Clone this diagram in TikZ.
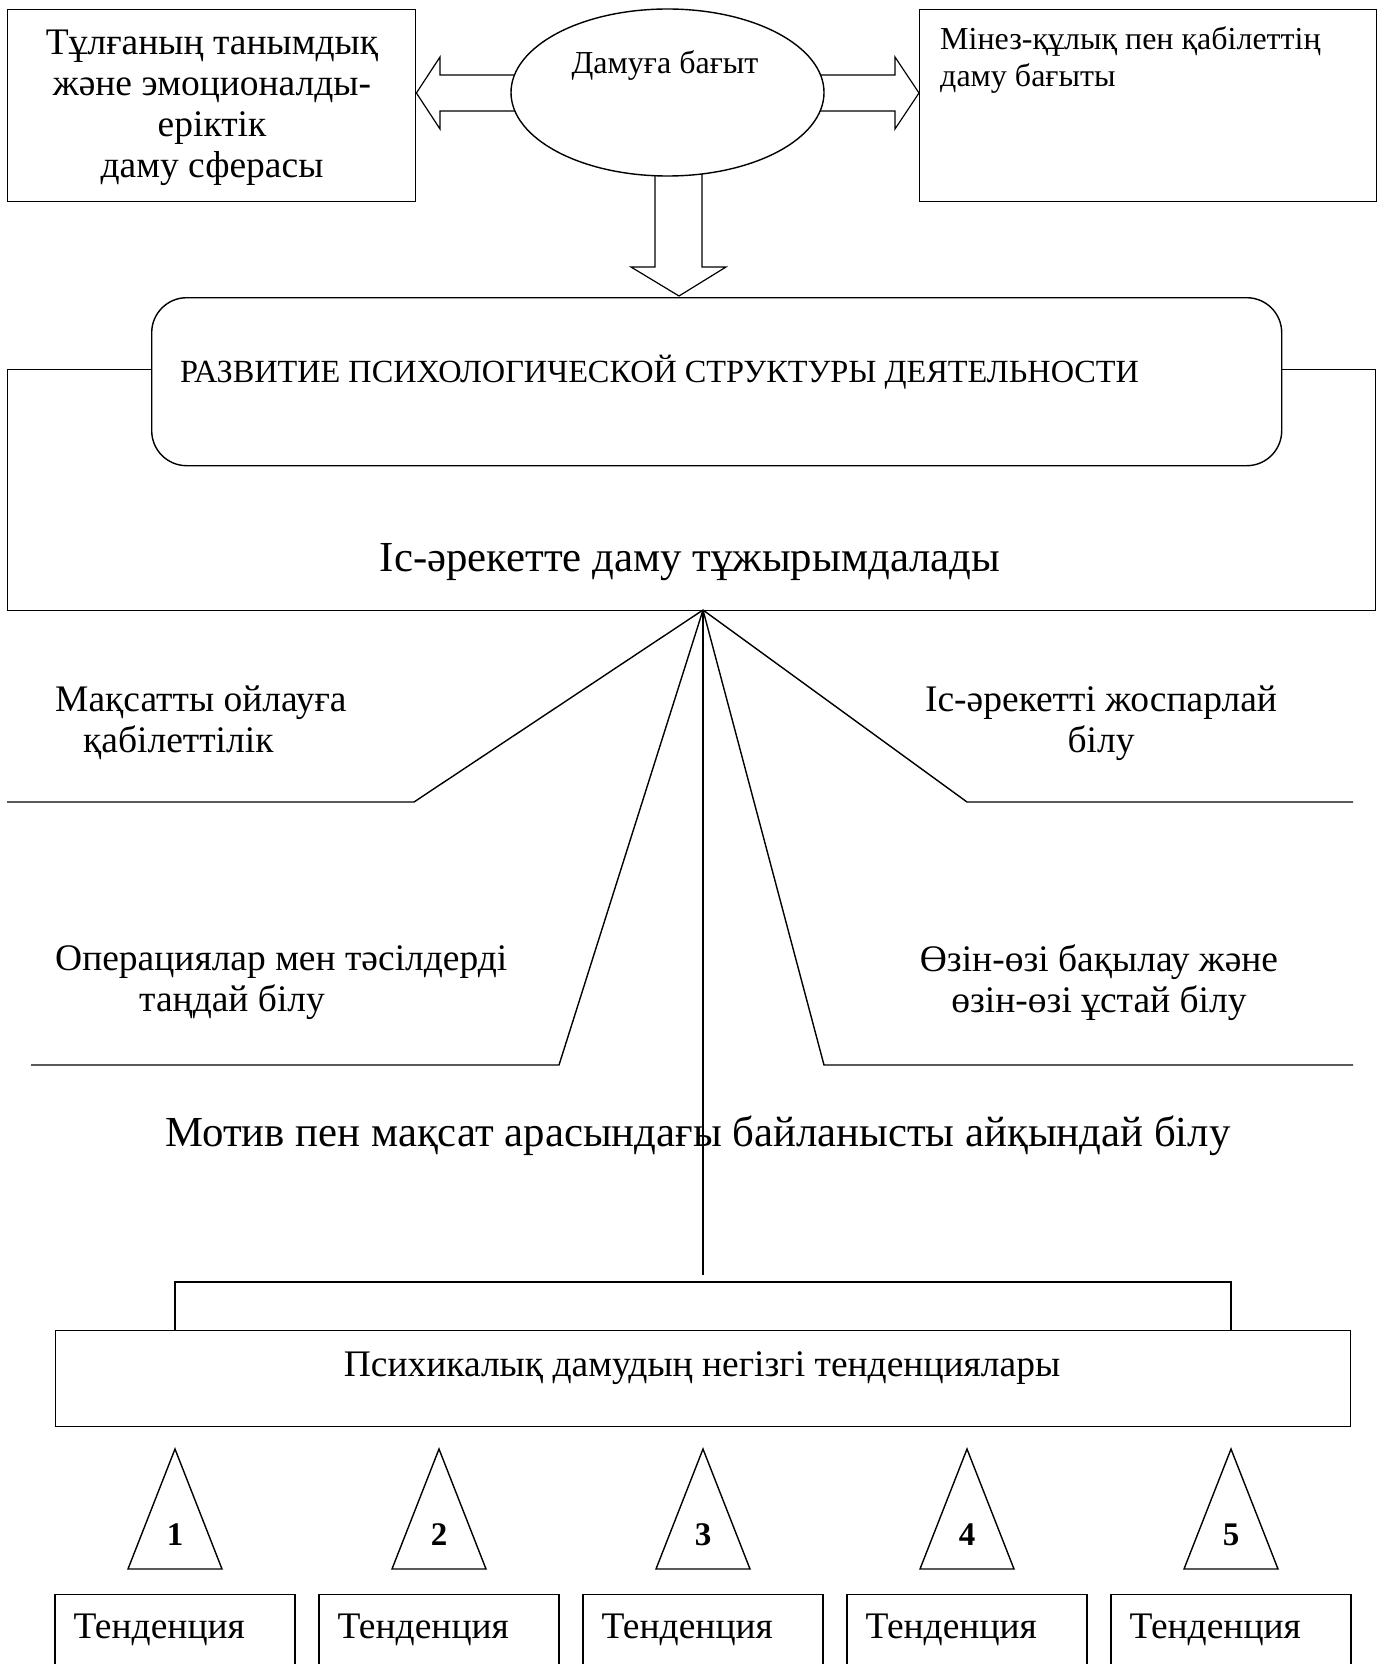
\documentclass[tikz,border=0pt]{standalone}
\usepackage{fontspec}
\setmainfont{Liberation Serif}
\usetikzlibrary{shapes.geometric}
\tikzset{
  ln/.style={line width=1.4pt},
  box/.style={draw, line width=1.4pt, inner sep=0pt},
  blockarrow/.style={draw, line width=1.2pt, fill=white, line join=miter},
  txt/.style={inner sep=0pt, font=\fontsize{37.5}{41}\selectfont},
  small/.style={inner sep=0pt, font=\fontsize{32}{37}\selectfont},
  big/.style={inner sep=0pt, font=\fontsize{42.8}{48}\selectfont},
  num/.style={inner sep=0pt, font=\fontsize{33}{36}\selectfont\bfseries},
}
\begin{document}
\begin{tikzpicture}[x=1pt,y=-1pt]
\useasboundingbox (0,0) rectangle (1384,1664);
\fill[white] (0,0) rectangle (1384,1664);

% top boxes
\node[box, minimum width=408, minimum height=192, anchor=north west] (lbox) at (7,9) {};
\node[txt, align=center] (ltext) at (212,108) {Тұлғаның танымдық\\және эмоционалды-\\еріктік\\даму сферасы};
\node[box, minimum width=457, minimum height=192, anchor=north west] (rbox) at (919,9) {};
\node[small, align=left, anchor=west] (rtext) at (940,60) {Мінез-құлық пен қабілеттің\\даму бағыты};

% block arrows
\draw[blockarrow] (535,75) -- (440,75) -- (440,57) -- (lbox.east |- 0,93) -- (440,129) -- (440,111) -- (535,111);
\draw[blockarrow] (800,75) -- (895,75) -- (895,57) -- (rbox.west |- 0,93) -- (895,129) -- (895,111) -- (800,111);
\coordinate (dtip) at (679,296);
\draw[blockarrow] (655,150) -- (655,267) -- (631,267) -- (dtip) -- (726,267) -- (702,267) -- (702,150);

% ellipse
\node[ellipse, draw, line width=1.4pt, fill=white, inner sep=0pt, minimum width=313, minimum height=167] (ell) at (667.5,92.5) {};
\node[small] (elltext) at (665,66) {Дамуға бағыт};

% big frame and rounded box
\node[box, minimum width=1368, minimum height=241, anchor=north west] (frame) at (7,369) {};
\node[box, fill=white, rounded corners=35, minimum width=1130, minimum height=168, anchor=north west] (dev) at (151,297) {};
\node[inner sep=0pt, font=\fontsize{32.3}{37}\selectfont, anchor=west] (devtext) at (180,372) {РАЗВИТИЕ ПСИХОЛОГИЧЕСКОЙ СТРУКТУРЫ ДЕЯТЕЛЬНОСТИ};
\node[big] (frametext) at (690,562) {Іс-әрекетте даму тұжырымдалады};

% fan
\coordinate (apex) at (703,610);
\coordinate (a1) at (414,802); \coordinate (a1e) at (7,802);
\coordinate (a2) at (967,802); \coordinate (a2e) at (1353,802);
\coordinate (a3) at (559,1065); \coordinate (a3e) at (31,1065);
\coordinate (a4) at (824,1065); \coordinate (a4e) at (1353,1065);
\coordinate (vend) at (703,1275);
\draw[ln] (apex) -- (a1) -- (a1e);
\draw[ln] (apex) -- (a2) -- (a2e);
\draw[ln] (apex) -- (a3) -- (a3e);
\draw[ln] (apex) -- (a4) -- (a4e);
\draw[ln] (apex) -- (vend);

\node[txt, align=left, anchor=west] (l1) at (55,723) {Мақсатты ойлауға\\\hspace*{28pt}қабілеттілік};
\node[txt, align=center] (r1) at (1101,723) {Іс-әрекетті жоспарлай\\білу};
\node[txt, align=left, anchor=west] (l2) at (55,983) {Операциялар мен тәсілдерді\\\hspace*{84pt}таңдай білу};
\node[txt, align=center] (r2) at (1099,983) {Өзін-өзі бақылау және\\өзін-өзі ұстай білу};
\node[big] (motiv) at (698,1136) {Мотив пен мақсат арасындағы байланысты айқындай білу};

% tendencies
\node[box, minimum width=1295, minimum height=96, anchor=north west] (tend) at (55,1330) {};
\node[txt] (tendtext) at (702,1368) {Психикалық дамудың негізгі тенденциялары};
\draw[ln] (tend.north -| 175,0) -- (175,1282) -- (1231,1282) -- (tend.north -| 1231,0);

\foreach \i/\cx in {1/175,2/439,3/703,4/967,5/1231}{
  \draw[ln] (\cx,1449) -- (\cx+47,1569) -- (\cx-47,1569) -- cycle;
  \node[num] (n\i) at (\cx,1535) {\i};
  \node[box, minimum width=240, minimum height=110, anchor=north] (b\i) at (\cx,1594) {};
  \node[txt, anchor=west] (bt\i) at ([xshift=19pt]b\i.west |- 0,1630) {Тенденция};
}
\end{tikzpicture}
\end{document}
